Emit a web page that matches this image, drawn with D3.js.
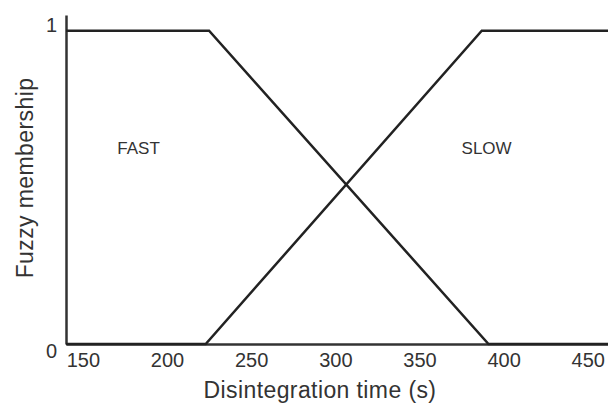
<!DOCTYPE html>
<html>
<head>
<meta charset="utf-8">
<script src="https://cdn.jsdelivr.net/npm/d3@7"></script>
<style>
  body { margin: 0; background: #fff; }
  text { font-family: "Liberation Sans", Arial, sans-serif; fill: #333; }
</style>
</head>
<body>
<div id="chart"></div>
<script>
// membership functions (disintegration time in s, membership 0..1)
const fastTime = [140, 225, 391, 462];
const fastMembership = [1, 1, 0, 0];
const slowTime = [140, 223, 387, 462];
const slowMembership = [0, 0, 1, 1];

const xTicks = [150, 200, 250, 300, 350, 400, 450];
const yTicks = [0, 1];

const setLabels = [
    { name: "FAST", t: 170.5, m: 0.607 },
    { name: "SLOW", t: 375, m: 0.607 }
];

const width = 608, height = 407;
const margin = { top: 15, right: 0, bottom: 63, left: 66 };

const svg = d3.select("#chart")
    .append("svg")
    .attr("width", width)
    .attr("height", height);

const x = d3.scaleLinear()
    .domain([140, 462])
    .range([margin.left, width - margin.right]);

const y = d3.scaleLinear()
    .domain([0, 1.05])
    .range([height - margin.bottom, margin.top]);

// x axis
const xAxis = svg.append("g")
    .attr("transform", `translate(0, ${y(0)})`)
    .call(d3.axisBottom(x).tickValues(xTicks).tickSize(0).tickPadding(9));
xAxis.select(".domain")
    .attr("stroke", "#333")
    .attr("stroke-width", 2.5);
xAxis.selectAll("text")
    .style("font-size", "20px")
    .attr("fill", "#333");

// y axis
const yAxis = svg.append("g")
    .attr("transform", `translate(${x(140)}, 0)`)
    .call(d3.axisLeft(y).tickValues(yTicks).tickSize(0).tickPadding(9).tickFormat(d3.format("d")));
yAxis.select(".domain")
    .attr("stroke", "#333")
    .attr("stroke-width", 2.5);
yAxis.selectAll("text")
    .style("font-size", "20px")
    .attr("fill", "#333")
    .attr("dy", d => d === 0 ? "0.65em" : "0.05em");

// membership lines
const line = d3.line()
    .x(d => x(d[0]))
    .y(d => y(d[1]));

svg.append("path")
    .datum(d3.zip(fastTime, fastMembership))
    .attr("d", line)
    .attr("fill", "none")
    .attr("stroke", "#222")
    .attr("stroke-width", 2.5);

svg.append("path")
    .datum(d3.zip(slowTime, slowMembership))
    .attr("d", line)
    .attr("fill", "none")
    .attr("stroke", "#222")
    .attr("stroke-width", 2.5);

// set labels
svg.selectAll(".setlabel")
    .data(setLabels)
    .join("text")
    .attr("class", "setlabel")
    .attr("x", d => x(d.t))
    .attr("y", d => y(d.m))
    .style("font-size", "17px")
    .text(d => d.name);

// axis titles
svg.append("text")
    .attr("x", 320)
    .attr("y", 398)
    .attr("text-anchor", "middle")
    .style("font-size", "23px")
    .style("letter-spacing", "0.4px")
    .text("Disintegration time (s)");

svg.append("text")
    .attr("transform", `translate(33, 178) rotate(-90)`)
    .attr("text-anchor", "middle")
    .style("font-size", "23px")
    .style("letter-spacing", "0.4px")
    .text("Fuzzy membership");
</script>
</body>
</html>
